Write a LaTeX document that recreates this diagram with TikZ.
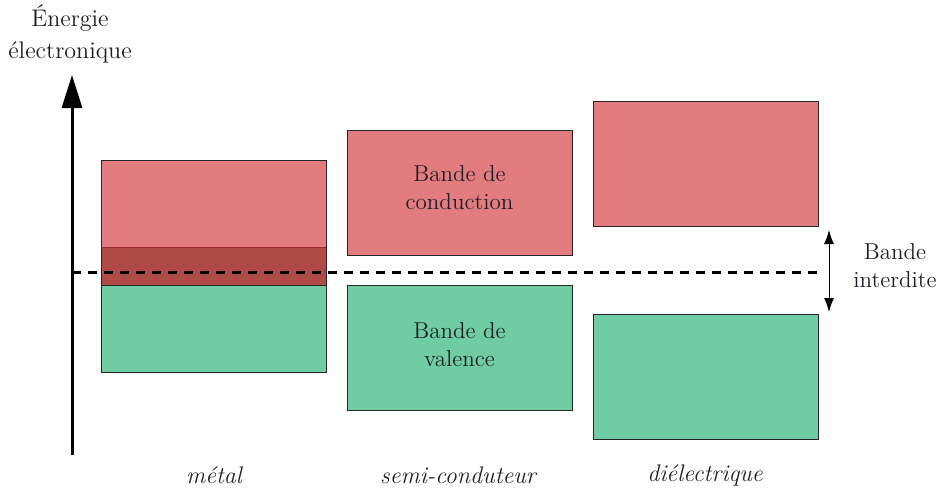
\documentclass[tikz,border=0pt]{standalone}
\usetikzlibrary{arrows.meta}
\definecolor{bandred}{HTML}{E37C7E}
\definecolor{bandgreen}{HTML}{6FCCA3}
\definecolor{overlapred}{HTML}{B04A44}
\definecolor{overlapline}{HTML}{9A2A28}
\definecolor{txt}{HTML}{1E1E28}
\tikzset{
  band/.style={draw=black!85, line width=0.5pt, inner sep=0pt, minimum width=112.5pt, minimum height=62.5pt},
  cband/.style={band, fill=bandred},
  vband/.style={band, fill=bandgreen},
  lbl/.style={text=txt, font=\fontsize{11.5}{14}\selectfont, align=center, inner sep=0pt},
  catlbl/.style={text=txt, font=\fontsize{12}{14}\selectfont\itshape, inner sep=0pt},
}
\begin{document}
\begin{tikzpicture}[x=0.5pt,y=-0.5pt]
\useasboundingbox (0,0) rectangle (945,493);
% axis
\coordinate (axbot) at (72,455);
\coordinate (axtop) at (72,75);
\draw[line width=1.5pt, -{Triangle[length=16.5pt,width=10pt]}] (axbot) -- (axtop);
\node[lbl, font=\fontsize{12}{16}\selectfont] (axlbl) at (70,34) {Énergie\\électronique};
% metal
\node[cband] (mc) at (213.5,222.5) {};
\node[vband] (mv) at (213.5,309.5) {};
\fill[overlapred] (101,247) rectangle (326,285);
\draw[black!85, line width=0.5pt] (101,247) rectangle (326,285);
\draw[overlapline, line width=0.5pt] (101.3,247) -- (325.7,247);
% semi
\node[cband] (sc) at (459.5,193) {};
\node[vband] (sv) at (459.5,347.5) {};
\node[lbl] (scl) at (459.5,188) {Bande de\\conduction};
\node[lbl] (svl) at (459.5,345) {Bande de\\valence};
% dielectric
\node[cband] (dc) at (705.5,163.5) {};
\node[vband] (dv) at (705.5,377) {};
% fermi level
\coordinate (fl) at (72,272);
\coordinate (fr) at (820,272);
\draw[line width=1.5pt, dash pattern=on 4.5pt off 3.5pt] (fl) -- (fr);
% gap arrow
\coordinate (gt) at (829,230);
\coordinate (gb) at (829,312);
\draw[line width=0.5pt, {Latex[length=7pt,width=5pt]}-{Latex[length=7pt,width=5pt]}] (gt) -- (gb);
\node[lbl] (gl) at (895,266) {Bande\\interdite};
% categories
\node[catlbl] (cm) at (214,475) {métal};
\node[catlbl] (cs) at (458,475) {semi-conduteur};
\node[catlbl] (cd) at (705,475) {diélectrique};
\end{tikzpicture}
\end{document}
